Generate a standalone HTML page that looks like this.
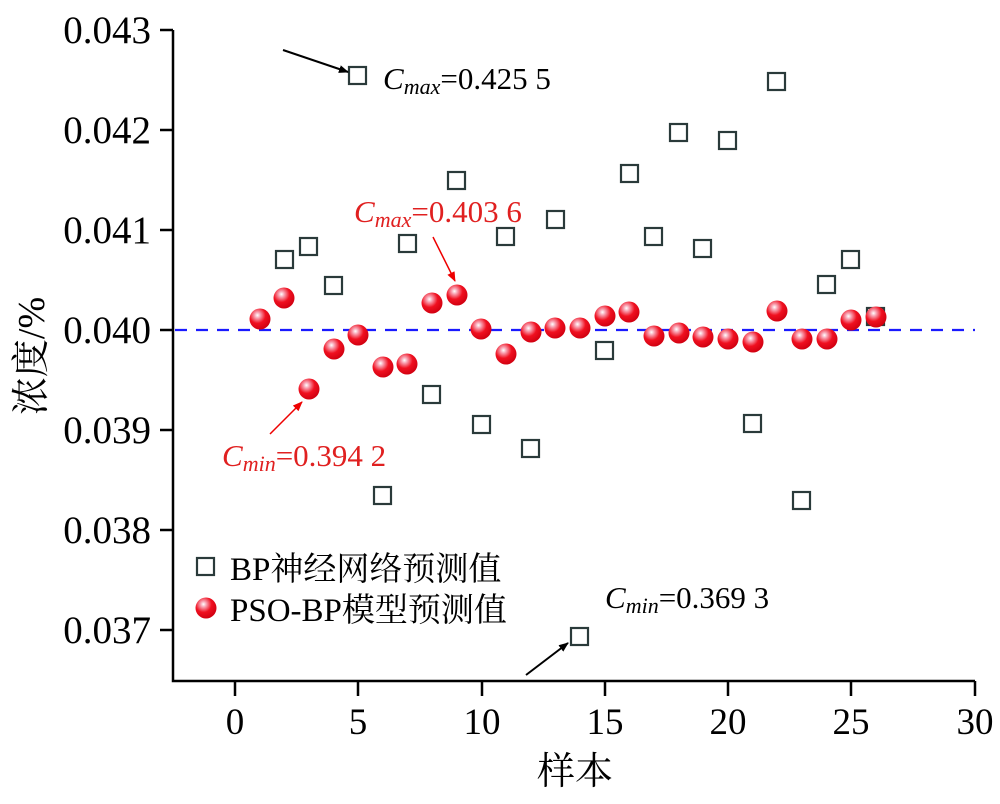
<!DOCTYPE html>
<html><head><meta charset="utf-8"><style>body{margin:0;background:#fff}</style></head><body>
<svg width="1000" height="799" viewBox="0 0 1000 799" xmlns="http://www.w3.org/2000/svg" font-family="'Liberation Serif','Noto Serif CJK SC',serif">
<defs>
<radialGradient id="g" cx="0.38" cy="0.32" r="0.7">
<stop offset="0" stop-color="#fff"/><stop offset="0.2" stop-color="#f8a0b0"/><stop offset="0.55" stop-color="#f01020"/><stop offset="1" stop-color="#d00010"/></radialGradient>
<marker id="ak" markerWidth="10" markerHeight="8" refX="9" refY="4" orient="auto" markerUnits="userSpaceOnUse"><path d="M0,0 L10,4 L0,8 Z" fill="#000"/></marker>
<marker id="ar" markerWidth="10" markerHeight="8" refX="9" refY="4" orient="auto" markerUnits="userSpaceOnUse"><path d="M0,0 L10,4 L0,8 Z" fill="#e00"/></marker>
</defs>
<g stroke="#000" stroke-width="2.5" fill="none">
<path d="M173,30 V681 H975"/>
<path d="M160,30 H173 M160,130 H173 M160,230 H173 M160,330 H173 M160,430 H173 M160,530 H173 M160,630 H173"/>
<path d="M235,681 V696 M358,681 V696 M482,681 V696 M605,681 V696 M728,681 V696 M851,681 V696 M975,681 V696"/>
</g>
<g font-size="39" text-anchor="end">
<text x="151" y="43">0.043</text><text x="151" y="143">0.042</text><text x="151" y="243">0.041</text><text x="151" y="343">0.040</text><text x="151" y="443">0.039</text><text x="151" y="543">0.038</text><text x="151" y="643">0.037</text>
</g>
<g font-size="37" text-anchor="middle">
<text x="235" y="734">0</text><text x="358" y="734">5</text><text x="482" y="734">10</text><text x="605" y="734">15</text><text x="728" y="734">20</text><text x="851" y="734">25</text><text x="975" y="734">30</text>
<text x="575" y="784" font-size="38">样本</text>
</g>
<text transform="translate(44,356) rotate(-90)" font-size="38" text-anchor="middle">浓度/%</text>
<line x1="175" y1="330" x2="975" y2="330" stroke="#1a1aff" stroke-width="2.2" stroke-dasharray="12,9"/>
<g fill="none" stroke="#2a3a3a" stroke-width="2.2">
<rect x="276" y="251" width="17" height="17"/><rect x="300" y="238" width="17" height="17"/><rect x="325" y="277" width="17" height="17"/><rect x="349" y="67" width="17" height="17"/><rect x="374" y="487" width="17" height="17"/><rect x="399" y="235" width="17" height="17"/><rect x="423" y="386" width="17" height="17"/><rect x="448" y="172" width="17" height="17"/><rect x="473" y="416" width="17" height="17"/><rect x="497" y="228" width="17" height="17"/><rect x="522" y="440" width="17" height="17"/><rect x="547" y="211" width="17" height="17"/><rect x="571" y="628" width="17" height="17"/><rect x="596" y="342" width="17" height="17"/><rect x="621" y="165" width="17" height="17"/><rect x="645" y="228" width="17" height="17"/><rect x="670" y="124" width="17" height="17"/><rect x="694" y="240" width="17" height="17"/><rect x="719" y="132" width="17" height="17"/><rect x="744" y="415" width="17" height="17"/><rect x="768" y="73" width="17" height="17"/><rect x="793" y="492" width="17" height="17"/><rect x="818" y="276" width="17" height="17"/><rect x="842" y="251" width="17" height="17"/><rect x="867" y="308" width="17" height="17"/>
<rect x="197" y="558" width="17" height="17"/>
</g>
<g fill="url(#g)">
<circle cx="260" cy="319" r="10.5"/><circle cx="284" cy="298" r="10.5"/><circle cx="309" cy="389" r="10.5"/><circle cx="334" cy="349" r="10.5"/><circle cx="358" cy="335" r="10.5"/><circle cx="383" cy="367" r="10.5"/><circle cx="407" cy="364" r="10.5"/><circle cx="432" cy="303" r="10.5"/><circle cx="457" cy="295" r="10.5"/><circle cx="481" cy="329" r="10.5"/><circle cx="506" cy="354" r="10.5"/><circle cx="531" cy="332" r="10.5"/><circle cx="555" cy="328" r="10.5"/><circle cx="580" cy="328" r="10.5"/><circle cx="605" cy="316" r="10.5"/><circle cx="629" cy="312" r="10.5"/><circle cx="654" cy="336" r="10.5"/><circle cx="679" cy="333" r="10.5"/><circle cx="703" cy="337" r="10.5"/><circle cx="728" cy="339" r="10.5"/><circle cx="753" cy="342" r="10.5"/><circle cx="777" cy="311" r="10.5"/><circle cx="802" cy="339" r="10.5"/><circle cx="827" cy="339" r="10.5"/><circle cx="851" cy="320" r="10.5"/><circle cx="876" cy="317" r="10.5"/>
<circle cx="206" cy="608" r="10.5"/>
</g>
<g font-size="33"><text x="230" y="580">BP神经网络预测值</text><text x="230" y="621">PSO-BP模型预测值</text></g>
<line x1="283" y1="50" x2="348" y2="72" stroke="#000" stroke-width="2" marker-end="url(#ak)"/>
<line x1="526" y1="675" x2="568" y2="643" stroke="#000" stroke-width="2" marker-end="url(#ak)"/>
<line x1="433" y1="237" x2="455" y2="281" stroke="#e00" stroke-width="1.5" marker-end="url(#ar)"/>
<line x1="270" y1="434" x2="302" y2="402" stroke="#e00" stroke-width="1.5" marker-end="url(#ar)"/>
<g font-size="31">
<text x="383" y="89"><tspan font-style="italic">C</tspan><tspan font-style="italic" font-size="22" dy="5">max</tspan><tspan dy="-5">=0.425 5</tspan></text>
<text x="605" y="608"><tspan font-style="italic">C</tspan><tspan font-style="italic" font-size="22" dy="5">min</tspan><tspan dy="-5">=0.369 3</tspan></text>
<g fill="#e02020">
<text x="354" y="222"><tspan font-style="italic">C</tspan><tspan font-style="italic" font-size="22" dy="5">max</tspan><tspan dy="-5">=0.403 6</tspan></text>
<text x="222" y="466"><tspan font-style="italic">C</tspan><tspan font-style="italic" font-size="22" dy="5">min</tspan><tspan dy="-5">=0.394 2</tspan></text>
</g></g>
</svg>
</body></html>
